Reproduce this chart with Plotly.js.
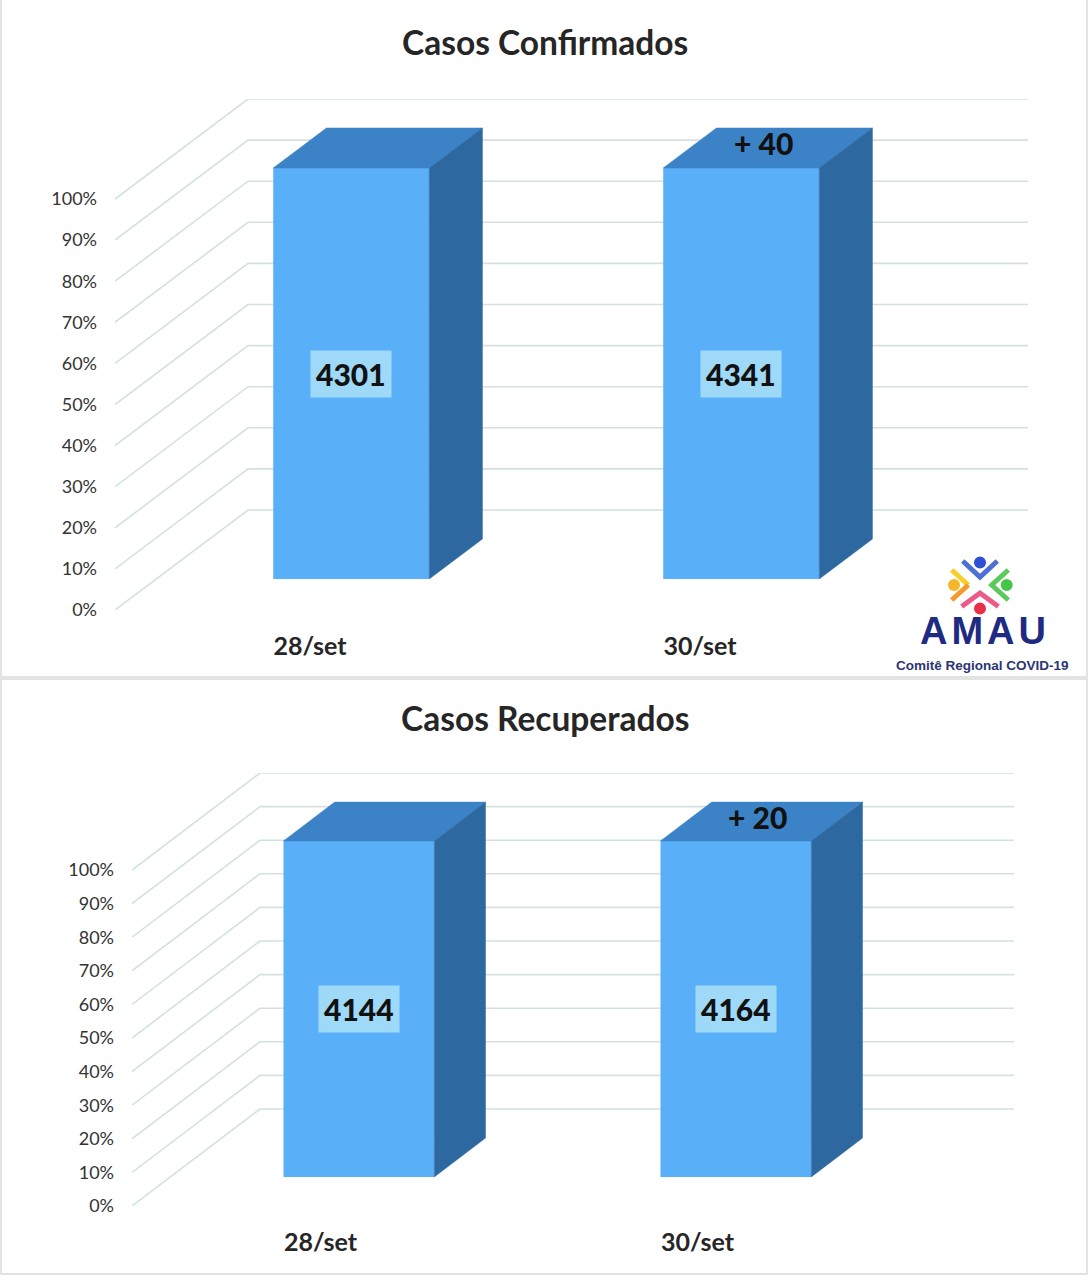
<!DOCTYPE html>
<html><head><meta charset="utf-8">
<script src="https://cdn.plot.ly/plotly-3.0.1.min.js"></script>
<style>html,body{margin:0;padding:0;background:#fff}</style>
</head><body><div id="chart" style="width:1088px;height:1280px"></div>
<script>
// ---- data ----
const categories = ['28/set', '30/set'];
const confirmedCounts = [4301, 4341];
const recoveredCounts = [4144, 4164];
const confirmedShare = [100, 100];
const recoveredShare = [100, 100];
const tickValues = [0, 10, 20, 30, 40, 50, 60, 70, 80, 90, 100];
const tickLabels = ['0%', '10%', '20%', '30%', '40%', '50%', '60%', '70%', '80%', '90%', '100%'];
const panelTitles = ['Casos Confirmados', 'Casos Recuperados'];

// ---- geometry / style ----
const W = 1088, H = 1280;
const FONT = 'Lato, "Open Sans", sans-serif';
const COLORS = {front: '#5ab0f8', top: '#3b83c6', side: '#2d69a0', box: '#9fd9f8', grid: '#d4e1dd', border: '#d9dcdc', text: '#262626'};
const panels = [
  {counts: confirmedCounts, share: confirmedShare, title: panelTitles[0],
   wallX: 115, zeroY: 610, fullY: 199, catPx: 390, dxPx: 133, dyPx: 100, dF: 0.31, dB: 0.71, titleY: 42, box: [1, -2, 1087, 677]},
  {counts: recoveredCounts, share: recoveredShare, title: panelTitles[1],
   wallX: 132, zeroY: 1206, fullY: 870, catPx: 377, dxPx: 128, dyPx: 97, dF: 0.30, dB: 0.70, titleY: 718, box: [1, 679, 1087, 1274]}
];
const BAR_W = 0.4;

const traces = [], shapes = [], annotations = [];
const layout = {
  width: W, height: H, autosize: false, margin: {l: 0, r: 0, t: 0, b: 0},
  paper_bgcolor: '#ffffff', plot_bgcolor: 'rgba(0,0,0,0)', showlegend: false,
  font: {family: FONT, color: COLORS.text}
};

panels.forEach((p, k) => {
  const sfx = k === 0 ? '' : String(k + 1);
  const xa = 'x' + sfx, ya = 'y' + sfx;
  const n = categories.length;
  const unitY = (p.zeroY - p.fullY) / 100;
  const DY = p.dyPx / unitY;
  const DX = p.dxPx / p.catPx;

  layout['xaxis' + sfx] = {
    domain: [p.wallX / W, (p.wallX + n * p.catPx + p.dxPx) / W],
    range: [-0.5, n - 0.5 + DX], anchor: ya, type: 'linear',
    showgrid: false, zeroline: false, showline: false, ticks: '',
    tickvals: categories.map((c, i) => i), ticktext: categories,
    tickfont: {family: FONT, size: 25, color: COLORS.text, weight: 700},
    ticklabelstandoff: 19, fixedrange: true
  };
  layout['yaxis' + sfx] = {
    domain: [1 - p.zeroY / H, 1 - (p.fullY - p.dyPx) / H],
    range: [0, 100 + DY], anchor: xa,
    showgrid: false, zeroline: false, showline: false, ticks: '',
    tickvals: tickValues, ticktext: tickLabels,
    tickfont: {family: FONT, size: 18, color: '#333333'},
    ticklabelstandoff: 17, fixedrange: true
  };

  // 3D grid: side wall diagonals + back wall lines
  tickValues.forEach(t => {
    shapes.push({type: 'path', xref: xa, yref: ya, layer: 'below',
      path: `M ${-0.5},${t} L ${-0.5 + DX},${t + DY} L ${n - 0.5 + DX},${t + DY}`,
      line: {color: COLORS.grid, width: 1.6}});
  });

  // front faces
  traces.push({type: 'bar', xaxis: xa, yaxis: ya,
    x: categories.map((c, i) => i + p.dF * DX), y: p.share,
    base: p.share.map(() => p.dF * DY), width: BAR_W,
    marker: {color: COLORS.front, line: {width: 0}}, hoverinfo: 'skip'});

  // top & side faces
  p.share.forEach((v, i) => {
    const l = i - BAR_W / 2, r = i + BAR_W / 2;
    traces.push({type: 'scatter', mode: 'lines', xaxis: xa, yaxis: ya, fill: 'toself',
      fillcolor: COLORS.top, line: {color: COLORS.top, width: 0.5}, hoverinfo: 'skip',
      x: [l + p.dF * DX, r + p.dF * DX, r + p.dB * DX, l + p.dB * DX, l + p.dF * DX],
      y: [v + p.dF * DY, v + p.dF * DY, v + p.dB * DY, v + p.dB * DY, v + p.dF * DY]});
    traces.push({type: 'scatter', mode: 'lines', xaxis: xa, yaxis: ya, fill: 'toself',
      fillcolor: COLORS.side, line: {color: COLORS.side, width: 0.5}, hoverinfo: 'skip',
      x: [r + p.dF * DX, r + p.dB * DX, r + p.dB * DX, r + p.dF * DX, r + p.dF * DX],
      y: [p.dF * DY, p.dB * DY, v + p.dB * DY, v + p.dF * DY, p.dF * DY]});
    // count label
    annotations.push({xref: xa, yref: ya, x: i + p.dF * DX, y: p.dF * DY + v / 2,
      text: String(p.counts[i]), showarrow: false, bgcolor: COLORS.box, borderpad: 5,
      font: {family: FONT, size: 30, weight: 900, color: '#111111'}});
    // increment label on top face
    if (i > 0) {
      const inc = p.counts[i] - p.counts[i - 1];
      annotations.push({xref: xa, yref: ya, x: i + (p.dF + p.dB) / 2 * DX, y: v + (p.dF + p.dB) / 2 * DY,
        text: '+ ' + inc, showarrow: false, xshift: -4, yshift: 5,
        font: {family: FONT, size: 30, weight: 900, color: '#111111'}});
    }
  });

  // title
  annotations.push({xref: 'paper', yref: 'paper', x: 545 / W, y: 1 - p.titleY / H,
    xanchor: 'center', yanchor: 'middle', showarrow: false, text: p.title,
    font: {family: FONT, size: 33.5, weight: 700, color: COLORS.text}});
  // panel border
  shapes.push({type: 'rect', xref: 'paper', yref: 'paper', layer: 'below',
    x0: p.box[0] / W, x1: p.box[2] / W, y0: 1 - p.box[1] / H, y1: 1 - p.box[3] / H,
    line: {color: COLORS.border, width: 1.5}});
});

// ---- AMAU logo (decoration) ----
const PX = x => x / W, PY = y => 1 - y / H;
const P = (x, y) => `${PX(x)},${PY(y)}`;
const logoLines = [
  {pts: [[962.7, 561], [980, 577], [997.3, 561]], color: '#4d6fd6'},
  {pts: [[951.7, 570], [968.3, 585]], color: '#f7cf2a'},
  {pts: [[968.3, 585], [951.7, 600]], color: '#f59a2a'},
  {pts: [[1008.3, 570], [991.7, 585], [1008.3, 600]], color: '#5cc95c'},
  {pts: [[961.7, 606.5], [980, 593], [998.3, 606.5]], color: '#ee5a88'}
];
logoLines.forEach(s => shapes.push({type: 'path', xref: 'paper', yref: 'paper',
  path: 'M ' + s.pts.map(q => P(q[0], q[1])).join(' L '),
  line: {color: s.color, width: 5}}));
const logoDots = [
  {c: [980, 562.5], color: '#2f4fd6'},
  {c: [954, 585], color: '#f5b62a'},
  {c: [1006.7, 585], color: '#46c646'},
  {c: [980, 608.5], color: '#e8304a'}
];
logoDots.forEach(d => shapes.push({type: 'circle', xref: 'paper', yref: 'paper',
  x0: PX(d.c[0] - 6), x1: PX(d.c[0] + 6), y0: PY(d.c[1] + 6), y1: PY(d.c[1] - 6),
  fillcolor: d.color, line: {width: 0}}));
annotations.push({xref: 'paper', yref: 'paper', x: PX(985), y: PY(631), showarrow: false,
  xanchor: 'center', yanchor: 'middle',
  text: '<span style="letter-spacing:4px">AMAU</span>',
  font: {family: '"Liberation Sans", Arial, sans-serif', size: 38, weight: 700, color: '#1f2b82'}});
annotations.push({xref: 'paper', yref: 'paper', x: PX(982), y: PY(665), showarrow: false,
  xanchor: 'center', yanchor: 'middle', text: 'Comitê Regional COVID-19',
  font: {family: '"Liberation Sans", Arial, sans-serif', size: 13.5, weight: 700, color: '#2b3575'}});

layout.shapes = shapes;
layout.annotations = annotations;
Plotly.newPlot('chart', traces, layout, {displayModeBar: false, staticPlot: true});
</script>
</body></html>
